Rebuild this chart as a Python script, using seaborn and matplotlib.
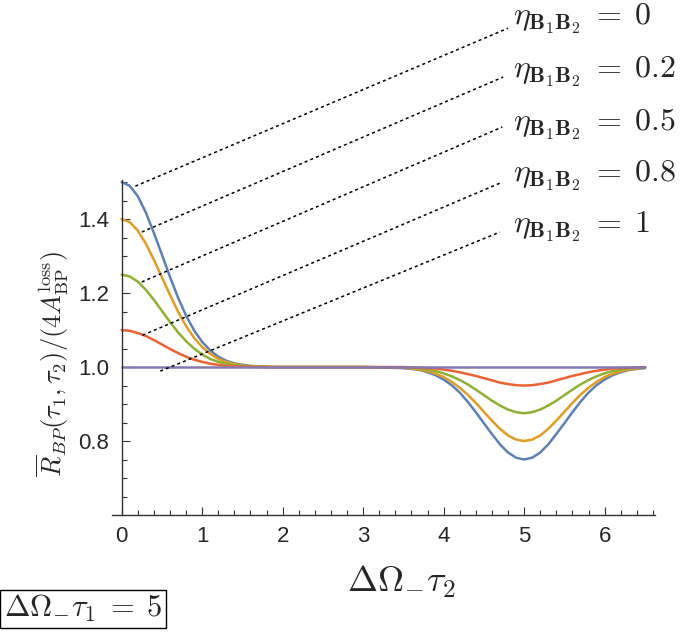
import numpy as np
import pandas as pd
import matplotlib
matplotlib.use("Agg")
import matplotlib.pyplot as plt
import seaborn as sns

# -------------------------------
# Data
# -------------------------------
eta_values = ["0", "0.2", "0.5", "0.8", "1"]
colors = ["#5E81B5", "#E19C24", "#8FB032", "#EB6235", "#8778B3"]

# sample grid: peak region, flat middle, dip region
x_peak = np.round(np.arange(0, 2.01, 0.1), 2)
x_mid = [2.5, 3.0]
x_dip = np.round(np.arange(3.5, 6.51, 0.1), 2)
x_all = np.concatenate([x_peak, x_mid, x_dip])

peak_eta0 = [1.500, 1.490, 1.462, 1.418, 1.363, 1.304, 1.244, 1.188, 1.139, 1.099, 1.068,
             1.045, 1.028, 1.017, 1.010, 1.006, 1.003, 1.002, 1.001, 1.000, 1.000]
peak_eta02 = [1.400, 1.392, 1.369, 1.334, 1.290, 1.243, 1.195, 1.150, 1.111, 1.079, 1.054,
              1.036, 1.022, 1.014, 1.008, 1.004, 1.002, 1.001, 1.001, 1.000, 1.000]
peak_eta05 = [1.250, 1.245, 1.231, 1.209, 1.182, 1.152, 1.122, 1.094, 1.070, 1.050, 1.034,
              1.022, 1.014, 1.009, 1.005, 1.003, 1.002, 1.001, 1.000, 1.000, 1.000]
peak_eta08 = [1.100, 1.098, 1.092, 1.084, 1.073, 1.061, 1.049, 1.038, 1.028, 1.020, 1.014,
              1.009, 1.006, 1.003, 1.002, 1.001, 1.001, 1.000, 1.000, 1.000, 1.000]
peak_eta1 = [1.0] * 21

mid_vals = [1.0, 1.0]

dip_eta0 = [0.997, 0.995, 0.992, 0.986, 0.978, 0.966, 0.951, 0.931, 0.906, 0.878, 0.848,
            0.819, 0.791, 0.769, 0.755, 0.750, 0.755, 0.769, 0.791, 0.819, 0.848,
            0.878, 0.906, 0.931, 0.951, 0.966, 0.978, 0.986, 0.992, 0.995, 0.997]
dip_eta02 = [0.998, 0.996, 0.993, 0.989, 0.982, 0.973, 0.960, 0.944, 0.925, 0.903, 0.879,
             0.855, 0.833, 0.815, 0.804, 0.800, 0.804, 0.815, 0.833, 0.855, 0.879,
             0.903, 0.925, 0.944, 0.960, 0.973, 0.982, 0.989, 0.993, 0.996, 0.998]
dip_eta05 = [0.999, 0.998, 0.996, 0.993, 0.989, 0.983, 0.975, 0.965, 0.953, 0.939, 0.924,
             0.909, 0.896, 0.885, 0.878, 0.875, 0.878, 0.885, 0.896, 0.909, 0.924,
             0.939, 0.953, 0.965, 0.975, 0.983, 0.989, 0.993, 0.996, 0.998, 0.999]
dip_eta08 = [1.000, 0.999, 0.998, 0.997, 0.996, 0.993, 0.990, 0.986, 0.981, 0.976, 0.970,
             0.964, 0.958, 0.954, 0.951, 0.950, 0.951, 0.954, 0.958, 0.964, 0.970,
             0.976, 0.981, 0.986, 0.990, 0.993, 0.996, 0.997, 0.998, 0.999, 1.000]
dip_eta1 = [1.0] * 31

series = {
    "0": peak_eta0 + mid_vals + dip_eta0,
    "0.2": peak_eta02 + mid_vals + dip_eta02,
    "0.5": peak_eta05 + mid_vals + dip_eta05,
    "0.8": peak_eta08 + mid_vals + dip_eta08,
    "1": peak_eta1 + mid_vals + dip_eta1,
}

rows = []
for eta in eta_values:
    for xv, yv in zip(x_all, series[eta]):
        rows.append({"x": xv, "y": yv, "eta": eta})
df = pd.DataFrame(rows)

# leader lines: (start x, start y, end x, end y) in data coords, and label anchor
leaders = [
    (0.17, 1.489, 4.80, 1.916),
    (0.25, 1.365, 4.74, 1.784),
    (0.25, 1.230, 4.73, 1.649),
    (0.26, 1.086, 4.73, 1.500),
    (0.48, 0.989, 4.70, 1.365),
]
label_pos = [(4.86, 1.940), (4.86, 1.799), (4.86, 1.656), (4.86, 1.516), (4.86, 1.380)]

# -------------------------------
# Plot
# -------------------------------
sns.set_style("ticks")
plt.rcParams["mathtext.fontset"] = "cm"
plt.rcParams["font.family"] = ["Liberation Sans", "DejaVu Sans"]

fig = plt.figure(figsize=(6.85, 6.32), dpi=100)
ax = fig.add_axes([0.1635, 0.1851, 0.792, 0.5297])

sns.lineplot(data=df, x="x", y="y", hue="eta", hue_order=eta_values,
             palette=colors, linewidth=1.8, legend=False, ax=ax, sort=False)

ax.set_xlim(-0.12, 6.62)
ax.set_ylim(0.6, 1.505)

ax.spines["top"].set_visible(False)
ax.spines["right"].set_visible(False)
ax.spines["left"].set_position(("data", 0))
for s in ["left", "bottom"]:
    ax.spines[s].set_color("#333333")
    ax.spines[s].set_linewidth(1.0)

ax.set_xticks(range(0, 7))
ax.set_xticks(np.round(np.arange(0, 6.61, 0.2), 2), minor=True)
ax.set_yticks([0.8, 1.0, 1.2, 1.4])
ax.set_yticklabels(["0.8", "1.0", "1.2", "1.4"])
ax.set_yticks(np.round(np.arange(0.65, 1.501, 0.05), 2), minor=True)
ax.tick_params(which="both", direction="in", color="#333333", width=0.8)
ax.tick_params(which="major", length=6, labelsize=16)
ax.tick_params(which="minor", length=3.5)
ax.tick_params(axis="x", which="major", pad=8)
ax.tick_params(axis="y", which="major", pad=9)

ax.set_xlabel(r"$\Delta\Omega_{-}\tau_2$", fontsize=26)
ax.xaxis.set_label_coords(0.533, -0.145)
ax.set_ylabel(r"$\overline{R}_{BP}(\tau_1,\tau_2)/(4A_{\mathrm{BP}}^{\mathrm{loss}})$", fontsize=19)
ax.yaxis.set_label_coords(-0.075, 0.45)

for (x0, y0, x1, y1), (tx, ty), eta in zip(leaders, label_pos, eta_values):
    ax.plot([x0, x1], [y0, y1], color="black", linestyle=(0, (2, 2)),
            linewidth=1.1, clip_on=False)
    ax.text(tx, ty, r"$\eta_{\mathbf{B}_1\mathbf{B}_2}\;=\;" + eta + "$",
            fontsize=23, ha="left", va="center")

fig.text(0.006, 0.012, r"$\Delta\Omega_{-}\tau_1\;=\;5$", fontsize=22, ha="left", va="bottom",
         bbox=dict(boxstyle="square,pad=0.12", fc="white", ec="black", lw=1.0))

fig.savefig("out.png", dpi=100)
